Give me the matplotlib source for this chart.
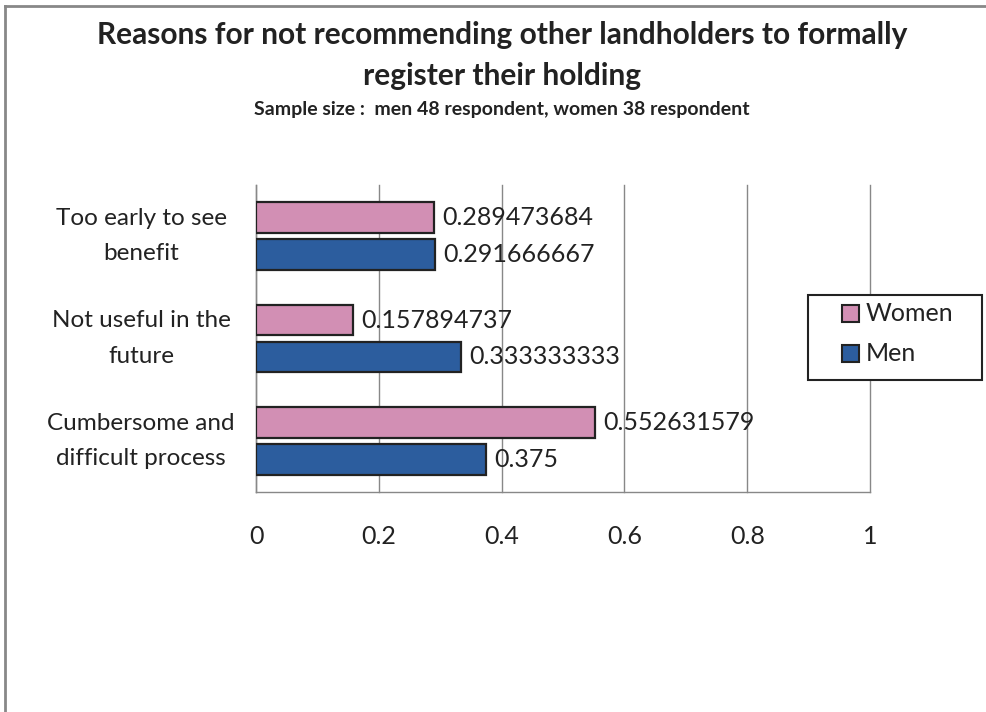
import matplotlib
matplotlib.use("Agg")
import matplotlib.pyplot as plt
from matplotlib.lines import Line2D
from matplotlib.patches import Rectangle
from matplotlib.transforms import blended_transform_factory
import numpy as np

# Data
categories = ["Cumbersome and\ndifficult process", "Not useful in the\nfuture", "Too early to see\nbenefit"]
women = [0.552631579, 0.157894737, 0.289473684]
men = [0.375, 0.333333333, 0.291666667]
women_labels = ["0.552631579", "0.157894737", "0.289473684"]
men_labels = ["0.375", "0.333333333", "0.291666667"]
series_names = ["Women", "Men"]
x_ticks = [0, 0.2, 0.4, 0.6, 0.8, 1]
x_tick_labels = ["0", "0.2", "0.4", "0.6", "0.8", "1"]

plt.rcParams["font.family"] = ["Lato", "DejaVu Sans"]

pink = "#D28FB4"
blue = "#2C5D9E"
edge = "#222222"
grey = "#888888"
ink = "#222222"

W, H = 986, 712
fig = plt.figure(figsize=(W / 100, H / 100), dpi=100)


def fx(px):
    return px / W


def fy(py):
    return 1 - py / H


ax = fig.add_axes([fx(256), fy(492), fx(870) - fx(256), fy(185) - fy(492)])

y = np.arange(len(categories))
h = 0.30
off = 0.18
ax.barh(y + off, women, height=h, color=pink, edgecolor=edge, linewidth=1.6, zorder=3)
ax.barh(y - off, men, height=h, color=blue, edgecolor=edge, linewidth=1.6, zorder=3)

for yi, v, s in zip(y + off, women, women_labels):
    ax.annotate(s, (v, yi), xytext=(6, 0), textcoords="offset points",
                va="center", ha="left", fontsize=18, color=ink, zorder=4)
for yi, v, s in zip(y - off, men, men_labels):
    ax.annotate(s, (v, yi), xytext=(6, 0), textcoords="offset points",
                va="center", ha="left", fontsize=18, color=ink, zorder=4)

ax.set_xlim(0, 1)
ax.set_ylim(-0.5, 2.5)
ax.set_xticks(x_ticks)
ax.set_xticklabels(x_tick_labels, fontsize=18, color=ink)
ax.set_yticks(y)
ax.set_yticklabels([])
ax.tick_params(axis="both", length=0)
ax.tick_params(axis="x", pad=24)

# Category labels, centred in the space left of the plot
label_tr = blended_transform_factory(fig.transFigure, ax.transData)
for yi, cat in zip(y, categories):
    ax.text(fx(141), yi, cat, transform=label_tr, clip_on=False,
            ha="center", va="center", fontsize=17.5, color=ink,
            linespacing=1.85, multialignment="center")

ax.grid(axis="x", color=grey, linewidth=1.0, zorder=0)
for gl in ax.get_xgridlines():
    gl.set_clip_on(False)
ax.set_axisbelow(True)
for side in ["top", "right"]:
    ax.spines[side].set_visible(False)
for side in ["left", "bottom"]:
    ax.spines[side].set_color(grey)
    ax.spines[side].set_linewidth(1.0)

fig.text(fx(502), fy(35), "Reasons for not recommending other landholders to formally",
         ha="center", va="center", fontsize=21.5, fontweight="bold", color=ink)
fig.text(fx(502), fy(76), "register their holding",
         ha="center", va="center", fontsize=21.5, fontweight="bold", color=ink)
fig.text(fx(502), fy(110), "Sample size :  men 48 respondent, women 38 respondent",
         ha="center", va="center", fontsize=14, fontweight="bold", color=ink)

# Legend box
fig.add_artist(Rectangle((fx(808), fy(380)), fx(982) - fx(808), fy(295) - fy(380),
                         transform=fig.transFigure, facecolor="white", edgecolor=ink,
                         linewidth=1.5, zorder=5))
for name, col, top in zip(series_names, [pink, blue], [305, 345]):
    fig.add_artist(Rectangle((fx(842), fy(top + 17)), fx(859) - fx(842), fy(top) - fy(top + 17),
                             transform=fig.transFigure, facecolor=col, edgecolor=edge,
                             linewidth=1.5, zorder=6))
    fig.text(fx(866), fy(top + 8.5), name, ha="left", va="center", fontsize=18, color=ink, zorder=6)

# Outer frame: top and left edges only
fig.add_artist(Line2D([fx(5), 1], [fy(6), fy(6)], color=grey, linewidth=2, transform=fig.transFigure))
fig.add_artist(Line2D([fx(5), fx(5)], [0, fy(6)], color=grey, linewidth=2, transform=fig.transFigure))

fig.savefig("out.png", dpi=100, facecolor="white")
